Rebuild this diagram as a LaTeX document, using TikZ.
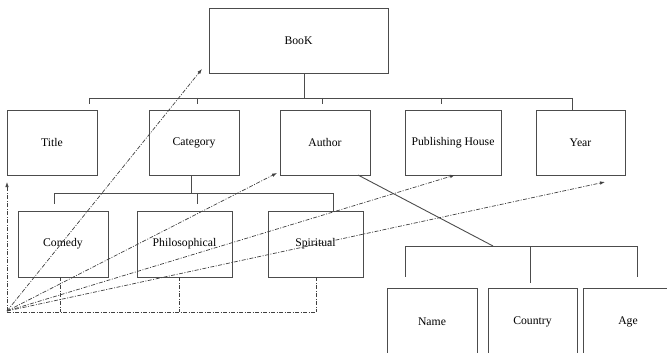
\documentclass[tikz,border=0pt]{standalone}
\usepackage{fontspec}
\setmainfont{Liberation Serif}
\usetikzlibrary{arrows.meta}
\begin{document}
\begin{tikzpicture}[x=1pt,y=-1pt,
  box/.style={draw=black!70,line width=0.9pt,rectangle,inner sep=0pt,font=\fontsize{11.7pt}{14pt}\selectfont},
  conn/.style={draw=black!70,line width=0.9pt},
  dd/.style={draw=black!75,line width=0.7pt,dash pattern=on 4pt off 1.5pt on 1pt off 1.5pt},
  arr/.style={dd,-{Latex[length=5pt,width=3.5pt]}}]
\useasboundingbox (0,0) rectangle (667,353);
\clip (0,0) rectangle (667,353);
% nodes
\node[box,minimum width=179pt,minimum height=65pt] (book) at (298.5,40.5) {BooK};
\node[box,minimum width=90pt,minimum height=65pt] (title) at (52,142.5) {Title};
\node[box,minimum width=90pt,minimum height=65pt] (cat) at (194,142.5) {Category};
\node[box,minimum width=90pt,minimum height=65pt] (author) at (325,142.5) {Author};
\node[box,minimum width=96pt,minimum height=65pt] (pub) at (453,142.5) {Publishing House};
\node[box,minimum width=89pt,minimum height=65pt] (year) at (580.5,142.5) {Year};
\node[box,minimum width=90pt,minimum height=66pt] (comedy) at (63,244) {Comedy};
\node[box,minimum width=95pt,minimum height=66pt] (phil) at (184.5,244) {Philosophical};
\node[box,minimum width=95pt,minimum height=66pt] (spir) at (315.5,244) {Spiritual};
\node[box,minimum width=90pt,minimum height=68pt] (name) at (432,322) {Name};
\node[box,minimum width=89pt,minimum height=68pt] (country) at (532.5,322) {Country};
\node[box,minimum width=90pt,minimum height=68pt] (age) at (628,322) {Age};
% level 1 bus
\coordinate (b0) at (304,98);
\coordinate (bL) at (89,98);
\coordinate (bR) at (572,98);
\draw[conn] (book.south -| b0) -- (b0);
\draw[conn] (bL) -- (bR);
\coordinate (t1) at (89,104);
\coordinate (t2) at (197,104);
\coordinate (t3) at (322,104);
\coordinate (t4) at (441,104);
\draw[conn] (bL) -- (t1);
\draw[conn] (t2 |- bL) -- (t2);
\draw[conn] (t3 |- bL) -- (t3);
\draw[conn] (t4 |- bL) -- (t4);
\draw[conn] (bR) -- (year.north -| bR);
% level 2 bus
\coordinate (c0) at (191,193);
\coordinate (cL) at (54,193);
\coordinate (cR) at (333,193);
\draw[conn] (cat.south -| c0) -- (c0);
\draw[conn] (cL) -- (cR);
\coordinate (s1) at (54,204);
\coordinate (s2) at (197,204);
\draw[conn] (cL) -- (s1);
\draw[conn] (s2 |- cL) -- (s2);
\draw[conn] (cR) -- (spir.north -| cR);
% level 3 bus
\coordinate (a0) at (358,175);
\coordinate (a1) at (493,246);
\coordinate (aL) at (405,246);
\coordinate (aR) at (637,246);
\draw[conn] (a0) -- (a1);
\draw[conn] (aL) -- (aR);
\coordinate (u1) at (405,277);
\coordinate (u2) at (530,283);
\coordinate (u3) at (637,277);
\draw[conn] (aL) -- (u1);
\draw[conn] (u2 |- aL) -- (u2);
\draw[conn] (aR) -- (u3);
% dash-dot arrows
\coordinate (O) at (7,311);
\coordinate (pBook) at (202,69);
\coordinate (pTitle) at (7,182);
\coordinate (pAuthor) at (277,173);
\coordinate (pPub) at (455,175);
\coordinate (pYear) at (605,182);
\draw[arr] (O) -- (pTitle);
\draw[arr] (O) -- (pBook);
\draw[arr] (O) -- (pAuthor);
\draw[arr] (O) -- (pPub);
\draw[arr] (O) -- (pYear);
\coordinate (q0) at (7,312);
\coordinate (q1) at (60,312);
\coordinate (q2) at (179,312);
\coordinate (q3) at (316,312);
\draw[dd] (q0) -- (q3);
\draw[dd] (comedy.south -| q1) -- (q1);
\draw[dd] (phil.south -| q2) -- (q2);
\draw[dd] (spir.south -| q3) -- (q3);
\end{tikzpicture}
\end{document}
